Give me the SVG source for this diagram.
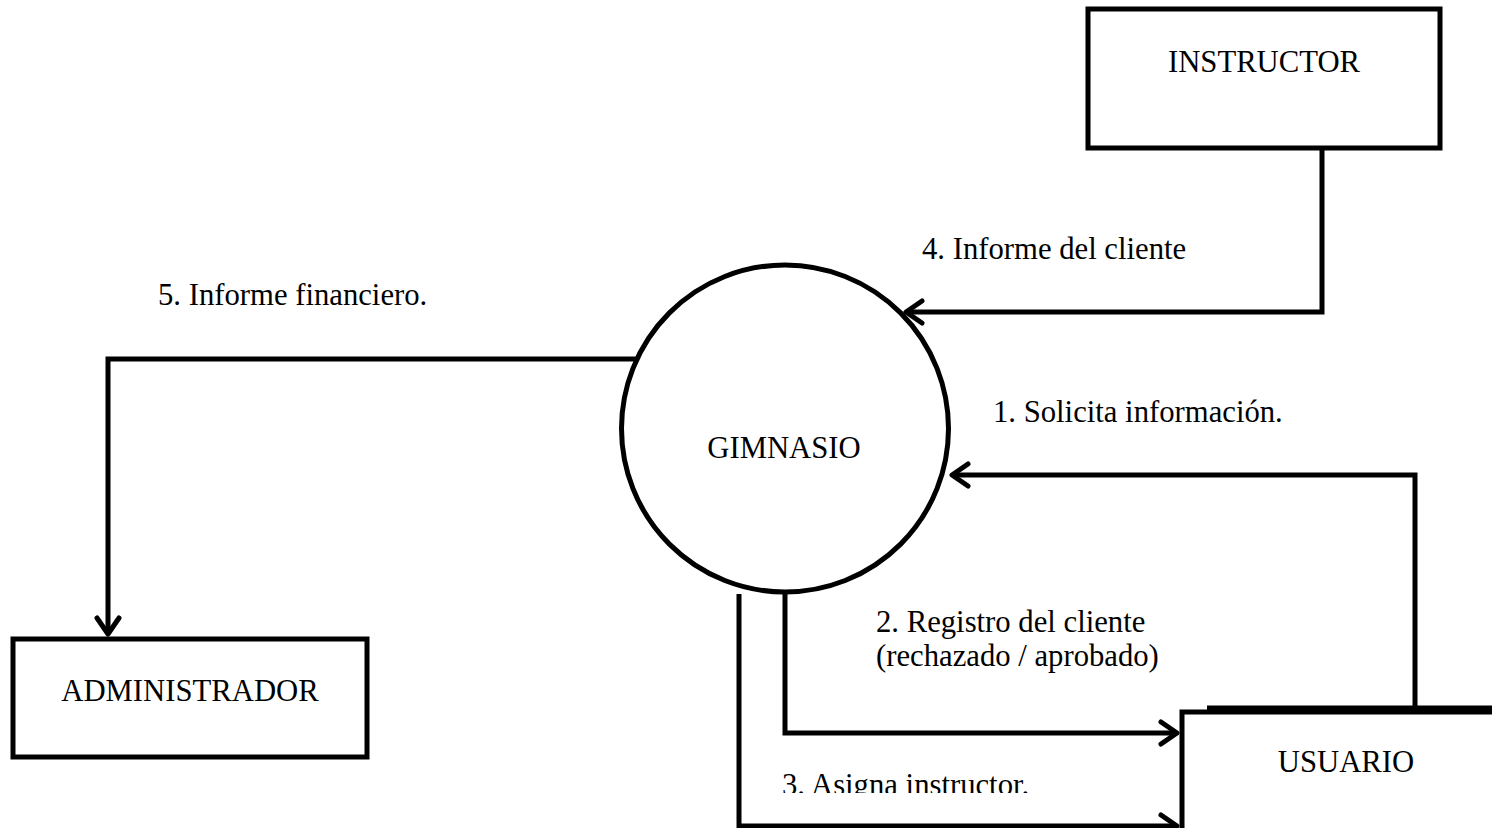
<svg xmlns="http://www.w3.org/2000/svg" width="1492" height="828" viewBox="0 0 1492 828">
<style>
.box{fill:#fff;stroke:#000;stroke-width:5}
.ln{fill:none;stroke:#000;stroke-width:5;stroke-linejoin:miter}
.ah{fill:none;stroke:#000;stroke-width:5;stroke-linecap:round;stroke-linejoin:round}
.t{font-family:"Liberation Serif","Times New Roman",serif;font-size:30.7px;fill:#000}
.c{text-anchor:middle}
</style>
<defs>
<clipPath id="clip3"><rect x="700" y="740" width="400" height="53"/></clipPath>
</defs>
<rect width="1492" height="828" fill="#fff"/>
<g id="connectors">
<polyline class="ln" points="1322,148 1322,312 906,312"/>
<polyline class="ah" points="922,301 906,312 922,323"/>
<polyline class="ln" points="1415,708 1415,475 952,475"/>
<polyline class="ah" points="968,464 952,475 968,486"/>
<polyline class="ln" points="645,359 108,359 108,634"/>
<polyline class="ah" points="97,618 108,634 119,618"/>
<polyline class="ln" points="785,592 785,733 1177,733"/>
<polyline class="ah" points="1161,722 1177,733 1161,744"/>
<polyline class="ln" points="739,594 739,826 1177,826"/>
<polyline class="ah" points="1161,815 1177,826 1161,837"/>
</g>
<g id="gimnasio">
<circle class="box" cx="785" cy="428.5" r="163.5"/>
<text class="t c" x="784" y="458">GIMNASIO</text>
</g>
<g id="instructor">
<rect class="box" x="1088" y="9" width="352" height="139"/>
<text class="t c" x="1264" y="72">INSTRUCTOR</text>
</g>
<g id="administrador">
<rect class="box" x="13" y="639" width="354" height="118"/>
<text class="t c" x="190" y="701">ADMINISTRADOR</text>
</g>
<g id="usuario">
<rect class="box" x="1182" y="712" width="330" height="140"/>
<line class="ln" x1="1207" y1="708" x2="1492" y2="708"/>
<text class="t c" x="1346" y="772">USUARIO</text>
</g>
<g id="labels">
<text class="t" x="922" y="259">4. Informe del cliente</text>
<text class="t" x="158" y="305">5. Informe financiero.</text>
<text class="t" x="993" y="422">1. Solicita información.</text>
<text class="t" x="876" y="632">2. Registro del cliente</text>
<text class="t" x="876" y="666">(rechazado / aprobado)</text>
<text class="t" x="782" y="795" clip-path="url(#clip3)">3. Asigna instructor.</text>
</g>
</svg>
